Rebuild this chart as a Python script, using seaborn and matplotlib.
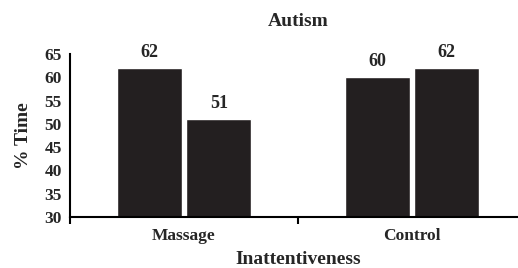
import matplotlib.pyplot as plt
import matplotlib.ticker as mticker
import pandas as pd
import seaborn as sns

GROUPS = ['Massage', 'Control']
FIRST_SESSION = [62, 60]
LAST_SESSION = [51, 62]

TITLE = 'Autism'
X_LABEL = 'Inattentiveness'
Y_LABEL = '% Time'
Y_TICKS = [30, 35, 40, 45, 50, 55, 60, 65]

BAR_COLOR = '#231f20'


def main() -> None:
    sns.set_style('ticks')
    plt.rcParams['font.family'] = ['Liberation Serif', 'DejaVu Serif']
    plt.rcParams['font.weight'] = 'bold'

    df = pd.DataFrame(
        {
            'group': GROUPS * 2,
            'session': ['first'] * len(GROUPS) + ['last'] * len(GROUPS),
            'pct': FIRST_SESSION + LAST_SESSION,
        }
    )

    fig = plt.figure(figsize=(5.18, 2.68), dpi=100)
    ax = fig.add_axes([70 / 518, 51 / 268, 456 / 518, 163 / 268])

    sns.barplot(
        data=df,
        x='group',
        y='pct',
        hue='session',
        palette=[BAR_COLOR, BAR_COLOR],
        saturation=1,
        width=0.61,
        gap=0.07,
        legend=False,
        ax=ax,
    )

    for container in ax.containers:
        ax.bar_label(container, fmt='%d', padding=5, fontsize=13,
                     fontweight='bold')

    ax.set_ylim(30, 65)
    ax.set_xlim(-0.5, 1.5)
    ax.set_yticks(Y_TICKS)
    ax.tick_params(axis='y', length=0, pad=6, labelsize=12.5)
    ax.xaxis.set_minor_locator(mticker.FixedLocator([-0.5, 0.5, 1.5]))
    ax.tick_params(axis='x', which='major', length=0, pad=8,
                   labelsize=12.5)
    ax.tick_params(axis='x', which='minor', length=5, width=1.5,
                   direction='out', color='black')

    for side in ('top', 'right'):
        ax.spines[side].set_visible(False)
    for side in ('left', 'bottom'):
        ax.spines[side].set_linewidth(1.5)
        ax.spines[side].set_color('black')

    ax.set_title(TITLE, fontsize=14, fontweight='bold', pad=20)
    ax.set_xlabel(X_LABEL, fontsize=14, fontweight='bold', labelpad=5)
    ax.set_ylabel(Y_LABEL, fontsize=14, fontweight='bold', labelpad=9)

    fig.savefig('out.png', dpi=100)


if __name__ == '__main__':
    main()
